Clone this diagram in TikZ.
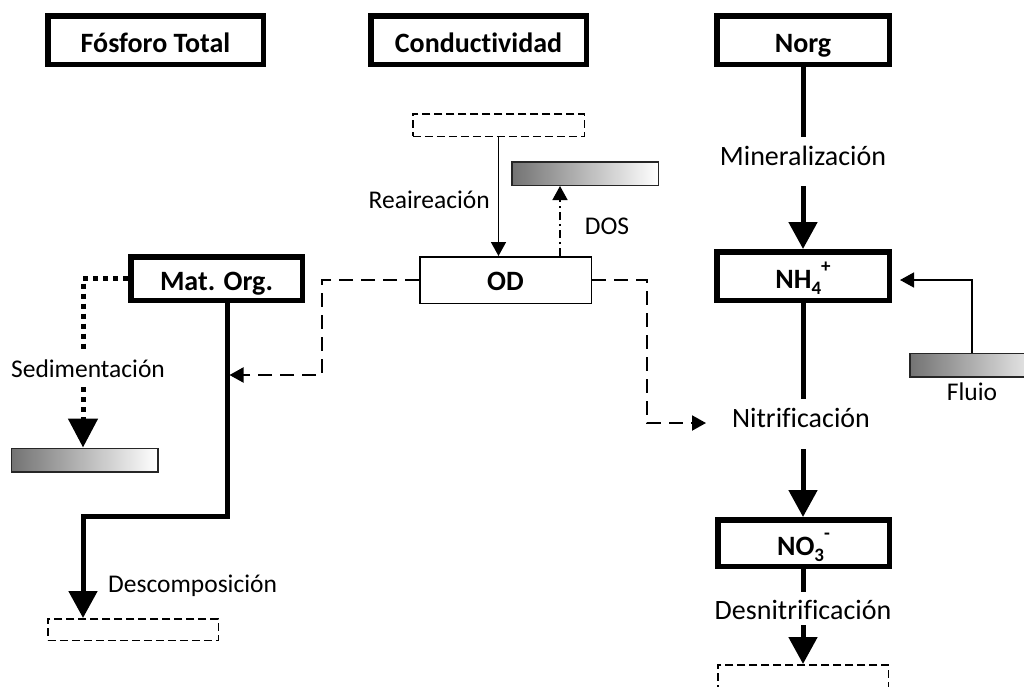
\documentclass[tikz,border=0pt]{standalone}
\usepackage{fontspec}
\setmainfont{Carlito}[Ligatures={NoCommon}]
\usetikzlibrary{arrows.meta,calc}
\tikzset{
  tbox/.style={draw, line width=5.5pt, inner sep=0pt, minimum height=48.5pt, text height=28pt, text depth=4pt, font=\bfseries\fontsize{28}{31}\selectfont},
  odbox/.style={draw, line width=1.5pt, inner sep=0pt, text height=24pt, text depth=4pt, font=\bfseries\fontsize{28}{31}\selectfont},
  dbox/.style={draw, line width=1.5pt, dash pattern=on 8pt off 4pt, inner sep=0pt},
  gbox/.style={draw=black!85, line width=1.5pt, left color=black!55, right color=white, inner sep=0pt, minimum height=23.5pt, minimum width=146.5pt},
  lab/.style={inner sep=0pt, text height=28pt, font=\fontsize{28}{31}\selectfont},
  slab/.style={inner sep=0pt, font=\fontsize{25.5}{29}\selectfont},
  thk/.style={line width=5pt},
  thkarrow/.style={line width=5pt, -{Triangle[width=28pt,length=27pt]}},
  thnarrow/.style={line width=1.5pt, -{Triangle[width=15pt,length=14pt]}},
  dline/.style={line width=2pt, dash pattern=on 14pt off 8pt, -{Triangle[width=15pt,length=14pt]}},
  sedline/.style={line width=5pt, dash pattern=on 5pt off 5pt},
  dosline/.style={line width=1.5pt, dash pattern=on 8pt off 4pt on 2pt off 4pt, -{Triangle[width=15pt,length=14pt]}}
}
\newcommand{\smallb}[1]{{\fontsize{19}{19}\selectfont #1}}
\begin{document}
\begin{tikzpicture}[x=1pt,y=-1pt]
\useasboundingbox (0,0) rectangle (1024,686);
\fill[white] (0,0) rectangle (1024,686);
\clip (0,0) rectangle (1024,686);

% main boxes
\node[tbox, minimum width=215.5pt] (ft) at (155.5,40) {Fósforo Total};
\node[tbox, minimum width=215.5pt] (cond) at (478.5,40) {Conductividad};
\node[tbox, minimum width=172.5pt] (norg) at (803,40) {Norg};
\node[tbox, minimum width=172.5pt] (nh4) at (803,276) {NH\raisebox{-0.22em}{\smallb{4}}\raisebox{0.55em}{\smallb{+}}};
\node[tbox, minimum width=171.5pt, minimum height=46.5pt] (no3) at (803.5,543) {NO\raisebox{-0.22em}{\smallb{3}}\raisebox{0.55em}{\smallb{-}}};
\node[tbox, minimum width=171.5pt, minimum height=43.5pt] (mo) at (216.5,278.5) {Mat. Org.};
\node[odbox, minimum width=171.5pt, minimum height=46.5pt] (od) at (505.5,280) {OD};

% source / sink boxes
\node[dbox, minimum width=171.5pt, minimum height=22.5pt] (reasrc) at (498.5,125) {};
\node[dbox, minimum width=170.5pt, minimum height=21.5pt] (decb) at (133,629.5) {};
\node[dbox, minimum width=170.5pt, minimum height=22.5pt] (denb) at (803,676) {};
\node[gbox] (dosb) at (585,173.5) {};
\node[gbox] (sedb) at (84.5,460) {};
\node[gbox] (flb) at (983,365) {};

% labels on the flow lines (text height/depth set the gaps)
\node[lab, text depth=21pt, anchor=base] (minl) at (803,165) {Mineralización};
\node[lab, text depth=22pt, anchor=base] (nitl) at (801,427) {Nitrificación};
\node[lab, text height=27pt, text depth=6pt, anchor=base] (desl) at (803,619) {Desnitrificación};
\node[slab, text height=27pt, text depth=10pt, anchor=base] (sedl) at (88,377) {Sedimentación};
% side labels
\node[slab, anchor=base west] (decl) at (108,592) {Descomposición};
\node[slab, anchor=base east] (real) at (490,208) {Reaireación};
\node[slab, anchor=base] (dosl) at (607,234) {DOS};
\node[slab, anchor=base] (fll) at (972,400) {Fluio};

% helper coordinates
\coordinate (xsed) at (83,0);
\coordinate (xmo) at (227,0);
\coordinate (xodl) at (322,0);
\coordinate (xodr) at (647,0);
\coordinate (xdos) at (560,0);
\coordinate (xfl) at (972,0);
\coordinate (xnit) at (803,0);
\coordinate (mohit) at (229.5,375);
\coordinate (nitin) at (706,423);
\coordinate (nhin) at (900,280);
\coordinate (mobend) at (227,516);

% nitrogen chain
\draw[thk] (norg.south) -- (minl.north);
\draw[thkarrow] (minl.south) -- (nh4.north);
\draw[thk] (nh4.south) -- (nitl.north -| xnit);
\draw[thkarrow] (nitl.south -| xnit) -- (no3.north -| xnit);
\draw[thk] (no3.south -| xnit) -- (desl.north);
\draw[thkarrow] (desl.south) -- (denb.north);
\draw[thnarrow] (flb.north -| xfl) |- (nhin);

% oxygen
\draw[thnarrow] (reasrc.south) -- (reasrc.south |- od.north);
\draw[dosline] (od.north -| xdos) -- (dosb.south -| xdos);
\draw[dline] (od.west) -- (od.west -| xodl) -- (xodl |- mohit) -- (mohit);
\draw[dline] (od.east) -- (od.east -| xodr) -- (xodr |- nitin) -- (nitin);

% organic matter
\draw[thkarrow] (mo.south -| xmo) -- (mobend) -- (mobend -| xsed) -- (decb.north -| xsed);
\draw[sedline] (mo.west) -- (mo.west -| xsed) -- (sedl.north -| xsed);
\draw[sedline, -{Triangle[width=29pt,length=29pt]}] (sedl.south -| xsed) -- (sedb.north -| xsed);
\end{tikzpicture}
\end{document}
